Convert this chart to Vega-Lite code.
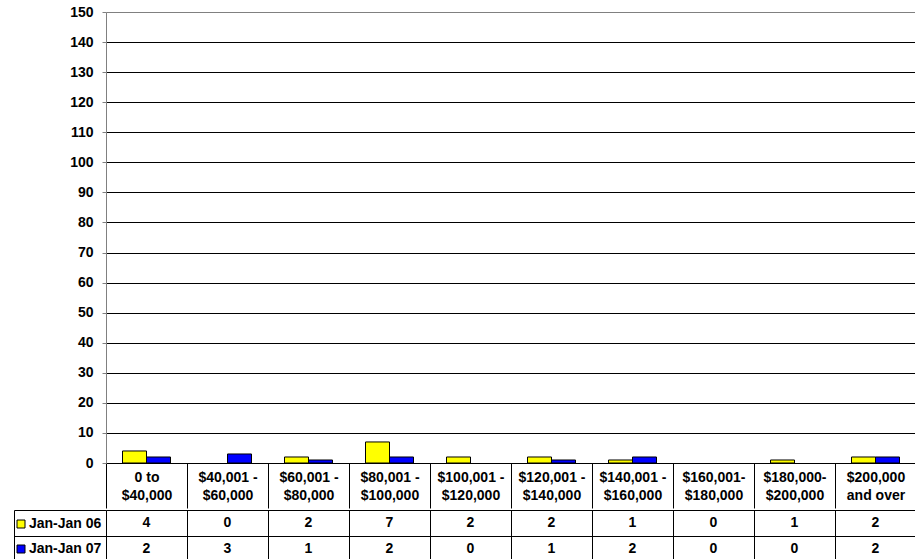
{
  "$schema": "https://vega.github.io/schema/vega-lite/v6.json",
  "background": "white",
  "padding": {"left": 13, "top": 5, "right": 0, "bottom": 0},
  "spacing": 0,
  "config": {"view": {"stroke": null}, "font": "Liberation Sans"},
  "datasets": {
    "sales": [
      {"category": "0 to\n$40,000", "series": "Jan-Jan 06", "value": 4},
      {"category": "0 to\n$40,000", "series": "Jan-Jan 07", "value": 2},
      {"category": "$40,001 -\n$60,000", "series": "Jan-Jan 06", "value": 0},
      {"category": "$40,001 -\n$60,000", "series": "Jan-Jan 07", "value": 3},
      {"category": "$60,001 -\n$80,000", "series": "Jan-Jan 06", "value": 2},
      {"category": "$60,001 -\n$80,000", "series": "Jan-Jan 07", "value": 1},
      {"category": "$80,001 -\n$100,000", "series": "Jan-Jan 06", "value": 7},
      {"category": "$80,001 -\n$100,000", "series": "Jan-Jan 07", "value": 2},
      {"category": "$100,001 -\n$120,000", "series": "Jan-Jan 06", "value": 2},
      {"category": "$100,001 -\n$120,000", "series": "Jan-Jan 07", "value": 0},
      {"category": "$120,001 -\n$140,000", "series": "Jan-Jan 06", "value": 2},
      {"category": "$120,001 -\n$140,000", "series": "Jan-Jan 07", "value": 1},
      {"category": "$140,001 -\n$160,000", "series": "Jan-Jan 06", "value": 1},
      {"category": "$140,001 -\n$160,000", "series": "Jan-Jan 07", "value": 2},
      {"category": "$160,001-\n$180,000", "series": "Jan-Jan 06", "value": 0},
      {"category": "$160,001-\n$180,000", "series": "Jan-Jan 07", "value": 0},
      {"category": "$180,000-\n$200,000", "series": "Jan-Jan 06", "value": 1},
      {"category": "$180,000-\n$200,000", "series": "Jan-Jan 07", "value": 0},
      {"category": "$200,000\nand over", "series": "Jan-Jan 06", "value": 2},
      {"category": "$200,000\nand over", "series": "Jan-Jan 07", "value": 2}
    ]
  },
  "resolve": {
    "scale": {"x": "independent", "y": "independent", "color": "independent"},
    "legend": {"color": "independent"}
  },
  "vconcat": [
    {
      "width": 810,
      "height": 451,
      "data": {"name": "sales"},
      "layer": [
        {
          "mark": {"type": "bar", "opacity": 0},
          "encoding": {"y": {"datum": 0, "type": "quantitative"}}
        },
        {
          "transform": [{"filter": "datum.value > 0"}],
          "mark": {"type": "bar", "stroke": "#000", "strokeWidth": 1},
          "encoding": {
            "y": {"field": "value", "type": "quantitative"},
            "xOffset": {
              "field": "series", "type": "nominal", "sort": null,
              "scale": {"domain": ["Jan-Jan 06", "Jan-Jan 07"], "paddingInner": 0, "paddingOuter": 0.6875}
            },
            "color": {
              "field": "series", "type": "nominal",
              "scale": {"domain": ["Jan-Jan 06", "Jan-Jan 07"], "range": ["#FFFF00", "#0000FF"]},
              "legend": null
            }
          }
        }
      ],
      "encoding": {
        "x": {
          "field": "category", "type": "nominal", "sort": null,
          "scale": {"paddingInner": 0, "paddingOuter": 0},
          "axis": {
            "title": null, "labelAngle": 0,
            "labelExpr": "split(datum.label, '\\n')",
            "labelFont": "Liberation Sans", "labelFontSize": 14, "labelFontWeight": "bold",
            "labelColor": "#000", "labelLineHeight": 18, "labelPadding": -38,
            "labelBaseline": "top",
            "tickBand": "extent", "tickSize": 45, "tickColor": "#000", "tickWidth": 1,
            "domainColor": "#000", "domainWidth": 1, "labelOverlap": false
          }
        },
        "y": {
          "type": "quantitative",
          "scale": {"domain": [0, 150], "nice": false},
          "axis": {
            "title": null,
            "values": [0, 10, 20, 30, 40, 50, 60, 70, 80, 90, 100, 110, 120, 130, 140, 150],
            "grid": true,
            "gridColor": {"condition": {"test": "datum.value === 150", "value": "#808080"}, "value": "#000"},
            "gridOpacity": 1, "gridWidth": 1,
            "domainColor": "#808080", "tickColor": "#808080", "tickSize": 4,
            "labelFont": "Liberation Sans", "labelFontSize": 14, "labelFontWeight": "bold",
            "labelColor": "#000", "labelPadding": 9
          }
        }
      }
    },
    {
      "width": 810,
      "height": 52,
      "data": {"name": "sales"},
      "encoding": {
        "x": {
          "field": "category", "type": "nominal", "sort": null,
          "scale": {"paddingInner": 0, "paddingOuter": 0},
          "axis": {
            "title": null, "orient": "top", "labels": false, "ticks": false, "domain": false,
            "grid": true, "tickBand": "extent", "gridColor": "#000", "gridOpacity": 1, "gridWidth": 1
          }
        },
        "y": {
          "field": "series", "type": "nominal", "sort": null,
          "scale": {"paddingInner": 0, "paddingOuter": 0},
          "axis": {
            "title": null, "labels": false, "offset": 92,
            "ticks": true, "tickSize": -92, "tickBand": "extent", "tickColor": "#000", "tickWidth": 1,
            "domain": true, "domainColor": "#000", "domainWidth": 1,
            "grid": true, "gridColor": "#000", "gridOpacity": 1, "gridWidth": 1
          }
        }
      },
      "layer": [
        {
          "mark": {"type": "rect", "opacity": 0},
          "encoding": {
            "color": {
              "field": "series", "type": "nominal",
              "scale": {"domain": ["Jan-Jan 06", "Jan-Jan 07"], "range": ["#FFFF00", "#0000FF"]},
              "legend": {
                "orient": "none", "legendX": -92, "legendY": 7, "title": null,
                "symbolType": "square", "symbolSize": 64,
                "symbolStrokeColor": "#000", "symbolStrokeWidth": 1, "symbolOpacity": 1,
                "labelFont": "Liberation Sans", "labelFontSize": 14, "labelFontWeight": "bold",
                "labelColor": "#000", "labelOffset": 1, "rowPadding": 11, "padding": 0
              }
            }
          }
        },
        {
          "mark": {"type": "text", "fontSize": 14, "fontWeight": "bold", "color": "#000", "font": "Liberation Sans"},
          "encoding": {"text": {"field": "value", "type": "quantitative"}}
        }
      ]
    }
  ]
}
